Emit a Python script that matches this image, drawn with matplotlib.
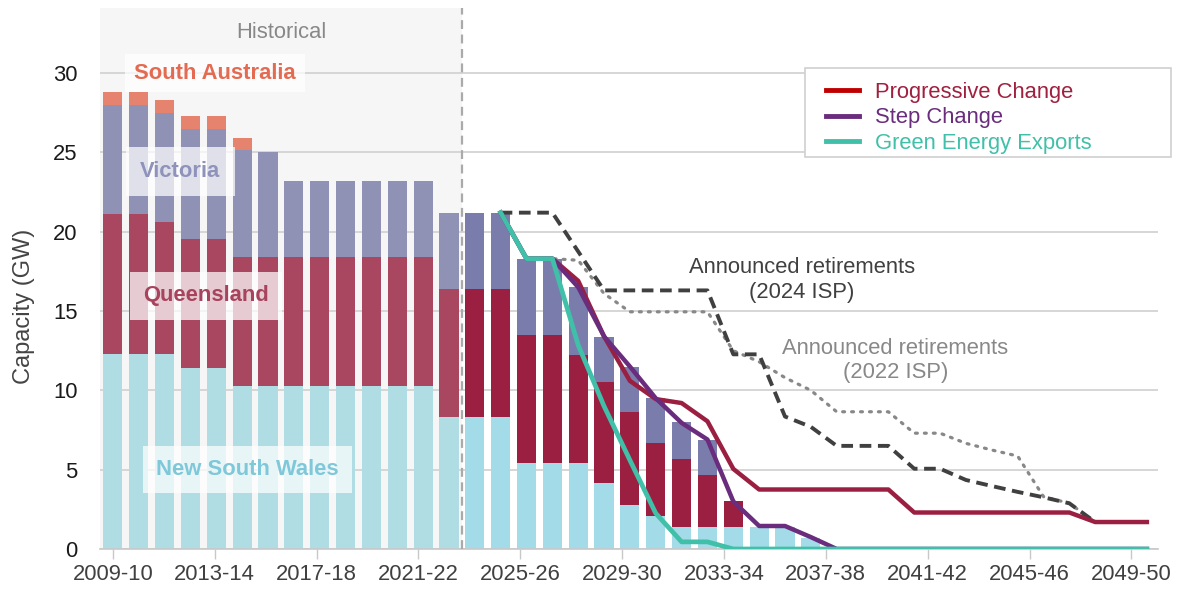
import numpy as np
import matplotlib
matplotlib.use("Agg")
import matplotlib.pyplot as plt
from matplotlib.lines import Line2D
from matplotlib.patches import Rectangle

plt.rcParams["font.family"] = ["Liberation Sans", "DejaVu Sans"]

# financial years 2009-10 .. 2049-50
years = [f"{y}-{str(y + 1)[-2:]}" for y in range(2009, 2050)]
n_hist = 14  # 2009-10 .. 2022-23 are historical

# coal capacity by region (GW); projections follow Step Change
nsw = [12.3, 12.3, 12.3, 11.4, 11.4, 10.3, 10.3, 10.3, 10.3, 10.3, 10.3, 10.3, 10.3, 8.3,
       8.3, 8.3, 5.4, 5.4, 5.45, 4.15, 2.8, 2.1, 1.4, 1.4, 1.4, 1.4, 1.4, 0.7,
       0, 0, 0, 0, 0, 0, 0, 0, 0, 0, 0, 0, 0]
qld = [8.8, 8.8, 8.3, 8.15, 8.15, 8.1, 8.1, 8.1, 8.1, 8.1, 8.1, 8.1, 8.1, 8.1,
       8.1, 8.1, 8.1, 8.1, 6.75, 6.4, 5.85, 4.6, 4.3, 3.25, 1.6, 0, 0, 0,
       0, 0, 0, 0, 0, 0, 0, 0, 0, 0, 0, 0, 0]
vic = [6.9, 6.9, 6.9, 6.95, 6.95, 6.75, 6.6, 4.8, 4.8, 4.8, 4.8, 4.8, 4.8, 4.8,
       4.8, 4.8, 4.8, 4.8, 4.3, 2.8, 2.8, 2.8, 2.3, 2.25, 0, 0, 0, 0,
       0, 0, 0, 0, 0, 0, 0, 0, 0, 0, 0, 0, 0]
sa = [0.8, 0.8, 0.8, 0.8, 0.8, 0.75, 0, 0, 0, 0, 0, 0, 0, 0,
      0, 0, 0, 0, 0, 0, 0, 0, 0, 0, 0, 0, 0, 0,
      0, 0, 0, 0, 0, 0, 0, 0, 0, 0, 0, 0, 0]

# scenario totals, 2024-25 .. 2049-50
line_start = 15
progressive = [21.2, 18.3, 18.3, 16.9, 13.4, 10.6, 9.45, 9.2, 8.05, 5.05,
               3.75, 3.75, 3.75, 3.75, 3.75, 3.75, 2.3, 2.3, 2.3, 2.3, 2.3, 2.3, 2.3,
               1.7, 1.7, 1.7]
step = [21.2, 18.3, 18.3, 16.5, 13.4, 11.5, 9.5, 7.95, 6.9, 3.0,
        1.45, 1.45, 0.75, 0, 0, 0, 0, 0, 0, 0, 0, 0, 0, 0, 0, 0]
green = [21.2, 18.3, 18.3, 12.85, 9.0, 5.6, 2.25, 0.45, 0.45, 0,
         0, 0, 0, 0, 0, 0, 0, 0, 0, 0, 0, 0, 0, 0, 0, 0]
isp2024 = [21.2, 21.2, 21.2, 18.75, 16.3, 16.3, 16.3, 16.3, 16.3, 12.27,
           12.27, 8.35, 7.7, 6.5, 6.5, 6.5, 5.06, 5.06, 4.35, 3.97, 3.6, 3.26, 2.88,
           1.7, 1.7, 1.7]
isp2022 = [21.2, 18.3, 18.3, 18.2, 16.1, 14.95, 14.95, 14.95, 14.95, 12.5,
           11.8, 10.8, 10.0, 8.65, 8.65, 8.65, 7.3, 7.3, 6.66, 6.24, 5.86, 3.3, 2.88,
           1.7, 1.7, 1.7]

hist_cols = {"nsw": "#b0dce4", "qld": "#a8475f", "vic": "#8f92b5", "sa": "#e5836e"}
proj_cols = {"nsw": "#a3dbe8", "qld": "#9b1f40", "vic": "#7a7dab", "sa": "#e5836e"}
FS = 15.8
W, H = 1182, 596

fig = plt.figure(figsize=(W / 100, H / 100), dpi=100)
ax = fig.add_axes([100 / W, 1 - 549 / H, 1058 / W, 541 / H])

x = np.arange(len(years))
ax.axvspan(-0.5, n_hist - 0.5, color="#f6f6f6", zorder=0, lw=0)
ax.grid(axis="y", color="#d0d0d0", lw=1.2, zorder=0.5)
ax.set_axisbelow(True)

bottom = np.zeros(len(years))
for key, vals in [("nsw", nsw), ("qld", qld), ("vic", vic), ("sa", sa)]:
    cols = [hist_cols[key] if i < n_hist else proj_cols[key] for i in x]
    ax.bar(x, vals, bottom=bottom, width=0.74, color=cols, zorder=2, lw=0)
    bottom += np.array(vals)

ax.axvline(n_hist - 0.5, color="#aaaaaa", ls=(0, (4, 2.5)), lw=1.6, zorder=3)

lx = np.arange(line_start, line_start + len(progressive))
ax.plot(lx, isp2022, color="#888888", lw=2.3, ls=(0, (0.6, 2.2)),
        dash_capstyle="round", zorder=4)
ax.plot(lx, isp2024, color="#404040", lw=2.8, ls=(0, (3, 1.7)), zorder=4)
ax.plot(lx, progressive, color="#9b1f40", lw=3.2, zorder=5)
ax.plot(lx, step, color="#6a2c7d", lw=3.2, zorder=5)
ax.plot(lx, green, color="#40c0a8", lw=3.4, zorder=5)

# region labels
box = dict(facecolor="white", alpha=0.72, edgecolor="none", boxstyle="square,pad=0.4")
ax.text(3.95, 30.0, "South Australia", color="#e46a51", fontsize=FS, fontweight="bold",
        ha="center", va="center", bbox=box, zorder=6)
ax.text(2.6, 23.8, "Victoria", color="#8f93bb", fontsize=FS, fontweight="bold",
        ha="center", va="center", bbox=dict(box, boxstyle="square,pad=0.65"), zorder=6)
ax.text(3.6, 15.95, "Queensland", color="#a8435d", fontsize=FS, fontweight="bold",
        ha="center", va="center", bbox=dict(box, boxstyle="square,pad=0.6"), zorder=6)
ax.text(5.2, 5.0, "New South Wales", color="#7ec8d9", fontsize=FS, fontweight="bold",
        ha="center", va="center", bbox=dict(box, boxstyle="square,pad=0.6"), zorder=6)

ax.text((n_hist - 1) / 2, 32.55, "Historical", color="#888888", fontsize=FS,
        ha="center", va="center")
ax.text(26.65, 16.95, "Announced retirements\n(2024 ISP)", color="#404040", fontsize=FS,
        ha="center", va="center", multialignment="center", zorder=6)
ax.text(30.27, 11.9, "Announced retirements\n(2022 ISP)", color="#888888", fontsize=FS,
        ha="center", va="center", multialignment="center", zorder=6)

ax.set_xlim(-0.5, 40.43)
ax.set_ylim(0, 34.1)
ax.set_yticks([0, 5, 10, 15, 20, 25, 30])
tick_idx = np.arange(0, len(years), 4)
ax.set_xticks(tick_idx * 0.985)
ax.set_xticklabels([years[i] for i in tick_idx])
ax.tick_params(axis="y", length=0, pad=16, labelsize=FS, labelcolor="#1a1a1a")
ax.tick_params(axis="x", length=7, width=1, color="#c8c8c8", pad=4,
               labelsize=FS, labelcolor="#404040")
for side in ["top", "right", "left"]:
    ax.spines[side].set_visible(False)
ax.spines["bottom"].set_color("#c8c8c8")
ax.spines["bottom"].set_linewidth(1.2)
ax.set_ylabel("Capacity (GW)", fontsize=17, color="#444444")
ax.yaxis.set_label_coords(-0.0614, 0.449)

# legend: frame drawn separately so the entries can sit with their own inset
fig.patches.append(Rectangle((805 / W, 1 - 157 / H), 366 / W, 89 / H,
                             transform=fig.transFigure, facecolor="white",
                             edgecolor="#d0d0d0", lw=1.2, zorder=10))
handles = [Line2D([], [], color=c, lw=3.5) for c in ["#c00000", "#6a2c7d", "#40c0a8"]]
leg = fig.legend(handles, ["Progressive Change", "Step Change", "Green Energy Exports"],
                 loc="upper left", bbox_to_anchor=(826 / W, 1 - 82 / H),
                 fontsize=FS, frameon=False, handlelength=1.5,
                 handletextpad=0.72, labelspacing=0.2, borderpad=0,
                 borderaxespad=0, labelcolor=["#a0203f", "#6a2c7d", "#40c0a8"])
leg.set_zorder(11)

fig.savefig("out.png", dpi=100)
